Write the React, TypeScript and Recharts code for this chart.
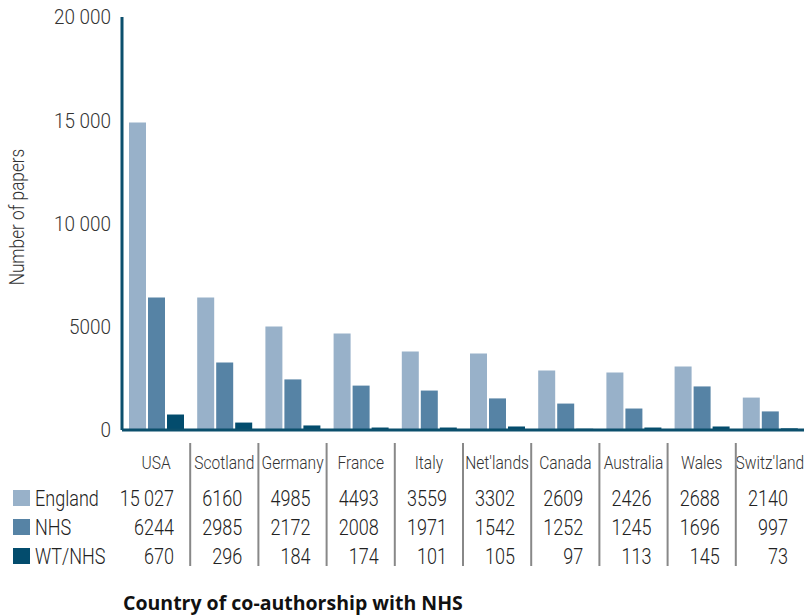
import { BarChart, Bar, XAxis, YAxis } from 'recharts';

const COUNTRIES = ['USA', 'Scotland', 'Germany', 'France', 'Italy', "Net'lands", 'Canada', 'Australia', 'Wales', "Switz'land"];

// bar heights as drawn
const ENGLAND_BARS = [14890, 6420, 5010, 4670, 3800, 3700, 2880, 2780, 3080, 1570];
const NHS_BARS = [6420, 3270, 2450, 2150, 1910, 1530, 1280, 1040, 2110, 900];
const WT_BARS = [750, 360, 220, 120, 120, 170, 60, 120, 170, 80];

// numbers printed in the table under the chart
const ENGLAND_TABLE = ['15 027', '6160', '4985', '4493', '3559', '3302', '2609', '2426', '2688', '2140'];
const NHS_TABLE = ['6244', '2985', '2172', '2008', '1971', '1542', '1252', '1245', '1696', '997'];
const WT_TABLE = ['670', '296', '184', '174', '101', '105', '97', '113', '145', '73'];

const Y_TICKS = [0, 5000, 10000, 15000, 20000];
const Y_TICK_LABELS = ['0', '5000', '10 000', '15 000', '20 000'];

const SERIES = [
  { key: 'england', name: 'England', color: '#98B1C9', table: ENGLAND_TABLE },
  { key: 'nhs', name: 'NHS', color: '#5683A5', table: NHS_TABLE },
  { key: 'wt', name: 'WT/NHS', color: '#034C6D', table: WT_TABLE },
];

const data = COUNTRIES.map((country, i) => ({
  country,
  england: ENGLAND_BARS[i],
  nhs: NHS_BARS[i],
  wt: WT_BARS[i],
}));

const W = 808;
const H = 616;
const LEFT = 122;
const RIGHT = 4;
const HALF_BAND = (W - LEFT - RIGHT) / COUNTRIES.length / 2;
const AXIS_COLOR = '#0B4F6C';
const FONT = 'Roboto, sans-serif';
const ROW_Y = [498, 527, 556];

// light, narrow text like the original's typeface
const Narrow = ({ x, y, size, anchor = 'start', fill = '#333', rotate = false, sx = 0.82, children }: any) => (
  <g transform={`translate(${x},${y})${rotate ? ' rotate(-90)' : ''} scale(${sx},1)`}>
    <text x={0} y={0} textAnchor={anchor} dominantBaseline="central" fontFamily={FONT} fontWeight={300} fontSize={size} fill={fill}>
      {children}
    </text>
  </g>
);

const TableTick = ({ x, payload, index }: any) => {
  const i = payload?.index ?? index;
  return (
    <g>
      <Narrow x={x} y={462} size={19} anchor="middle">{payload.value}</Narrow>
      {i > 0 && <line x1={x - HALF_BAND} x2={x - HALF_BAND} y1={443} y2={566} stroke="#888" strokeWidth={2} />}
      {SERIES.map((s, r) => (
        <Narrow key={s.key} x={x + 18} y={ROW_Y[r]} size={22} anchor="end" fill="#222">{s.table[i]}</Narrow>
      ))}
      {i === 0 && SERIES.map((s, r) => (
        <g key={s.key}>
          <rect x={13} y={ROW_Y[r] - 8} width={17} height={16} fill={s.color} />
          <Narrow x={35} y={ROW_Y[r]} size={22} fill="#222">{s.name}</Narrow>
        </g>
      ))}
      {i === 0 && (
        <text x={123} y={602} dominantBaseline="central" fontFamily="'Open Sans', sans-serif" fontWeight={700} fontSize={19.5} fill="#111">
          Country of co-authorship with NHS
        </text>
      )}
    </g>
  );
};

const YTick = ({ x, y, payload }: any) => (
  <Narrow x={x} y={y} size={21} sx={0.9} anchor="end">{Y_TICK_LABELS[Y_TICKS.indexOf(payload.value)]}</Narrow>
);

const YLabel = () => <Narrow x={17} y={217} size={21} anchor="middle" rotate>Number of papers</Narrow>;

export default function App() {
  return (
    <div style={{ position: 'absolute', left: 0, top: 0, width: W, height: H, background: '#fff' }}>
      <BarChart width={W} height={H} data={data} margin={{ top: 17, right: RIGHT, left: 0, bottom: 185 }} barGap={2} barSize={17}>
        <XAxis
          dataKey="country"
          height={1}
          interval={0}
          tickLine={false}
          axisLine={{ stroke: AXIS_COLOR, strokeWidth: 3 }}
          tick={<TableTick />}
        />
        <YAxis
          width={LEFT}
          domain={[0, 20000]}
          ticks={Y_TICKS}
          interval={0}
          tickLine={false}
          tickMargin={5}
          axisLine={{ stroke: AXIS_COLOR, strokeWidth: 3 }}
          tick={<YTick />}
          label={{ content: () => <YLabel /> }}
        />
        {SERIES.map((s) => (
          <Bar key={s.key} dataKey={s.key} name={s.name} fill={s.color} isAnimationActive={false} />
        ))}
      </BarChart>
    </div>
  );
}
